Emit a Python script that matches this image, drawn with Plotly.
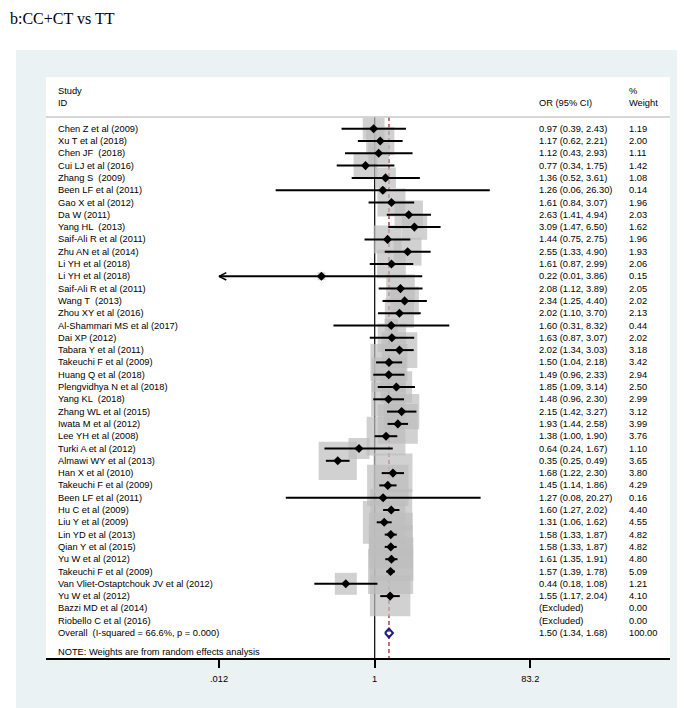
import math
import plotly.graph_objects as go

# ---------------- data ----------------
studies = [
    "Chen Z et al (2009)", "Xu T et al (2018)", "Chen JF  (2018)", "Cui LJ et al (2016)",
    "Zhang S  (2009)", "Been LF et al (2011)", "Gao X et al (2012)", "Da W (2011)",
    "Yang HL  (2013)", "Saif-Ali R et al (2011)", "Zhu AN et al (2014)", "Li YH et al (2018)",
    "Li YH et al (2018)", "Saif-Ali R et al (2011)", "Wang T  (2013)", "Zhou XY et al (2016)",
    "Al-Shammari MS et al (2017)", "Dai XP (2012)", "Tabara Y et al (2011)", "Takeuchi F et al (2009)",
    "Huang Q et al (2018)", "Plengvidhya N et al (2018)", "Yang KL  (2018)", "Zhang WL et al (2015)",
    "Iwata M et al (2012)", "Lee YH et al (2008)", "Turki A et al (2012)", "Almawi WY et al (2013)",
    "Han X et al (2010)", "Takeuchi F et al (2009)", "Been LF et al (2011)", "Hu C et al (2009)",
    "Liu Y et al (2009)", "Lin YD et al (2013)", "Qian Y et al (2015)", "Yu W et al (2012)",
    "Takeuchi F et al (2009)", "Van Vliet-Ostaptchouk JV et al (2012)", "Yu W et al (2012)",
    "Bazzi MD et al (2014)", "Riobello C et al (2016)",
]
or_vals = [0.97, 1.17, 1.12, 0.77, 1.36, 1.26, 1.61, 2.63, 3.09, 1.44, 2.55, 1.61, 0.22, 2.08,
           2.34, 2.02, 1.60, 1.63, 2.02, 1.50, 1.49, 1.85, 1.48, 2.15, 1.93, 1.38, 0.64, 0.35,
           1.68, 1.45, 1.27, 1.60, 1.31, 1.58, 1.58, 1.61, 1.57, 0.44, 1.55, None, None]
lci_vals = [0.39, 0.62, 0.43, 0.34, 0.52, 0.06, 0.84, 1.41, 1.47, 0.75, 1.33, 0.87, 0.01, 1.12,
            1.25, 1.10, 0.31, 0.87, 1.34, 1.04, 0.96, 1.09, 0.96, 1.42, 1.44, 1.00, 0.24, 0.25,
            1.22, 1.14, 0.08, 1.27, 1.06, 1.33, 1.33, 1.35, 1.39, 0.18, 1.17, None, None]
uci_vals = [2.43, 2.21, 2.93, 1.75, 3.61, 26.30, 3.07, 4.94, 6.50, 2.75, 4.90, 2.99, 3.86, 3.89,
            4.40, 3.70, 8.32, 3.07, 3.03, 2.18, 2.33, 3.14, 2.30, 3.27, 2.58, 1.90, 1.67, 0.49,
            2.30, 1.86, 20.27, 2.02, 1.62, 1.87, 1.87, 1.91, 1.78, 1.08, 2.04, None, None]
weights = [1.19, 2.00, 1.11, 1.42, 1.08, 0.14, 1.96, 2.03, 1.62, 1.96, 1.93, 2.06, 0.15, 2.05,
           2.02, 2.13, 0.44, 2.02, 3.18, 3.42, 2.94, 2.50, 2.99, 3.12, 3.99, 3.76, 1.10, 3.65,
           3.80, 4.29, 0.16, 4.40, 4.55, 4.82, 4.82, 4.80, 5.09, 1.21, 4.10, 0.00, 0.00]

overall_label = "Overall  (I-squared = 66.6%, p = 0.000)"
overall_or, overall_lci, overall_uci, overall_weight = 1.50, 1.34, 1.68, 100.00

tick_vals = [0.012, 1, 83.2]
tick_text = [".012", "1", "83.2"]
title_text = "b:CC+CT vs TT"
note_text = "NOTE: Weights are from random effects analysis"
null_value = 1

# ---------------- layout constants ----------------
W, H = 685, 708
PL, PR, PT, PB = 38, 662, 69, 650          # plot (white) region in px
ROW0, ROWSTEP = 120.7, 12.3                 # px of first row and row spacing
PX_ONE, PX_PER_DEC = 366.7, 81.05           # px of OR=1 and px per decade

def row_of(px):
    return (px - ROW0) / ROWSTEP

def paper_x(px):
    return (px - PL) / (PR - PL)

def paper_y(py):
    return (PB - py) / (PB - PT)

x_lo = (PL - PX_ONE) / PX_PER_DEC
x_hi = (PR - PX_ONE) / PX_PER_DEC
xmin_val = tick_vals[0]

FONT = "Liberation Sans, Arial, sans-serif"
FS = 9.3
n = len(studies)
overall_row = n
rows = list(range(n))
y_top = row_of(109)
y_bot = row_of(PB)

fig = go.Figure()

# null line and overall dashed line (beneath boxes)
fig.add_trace(go.Scatter(x=[null_value, null_value], y=[y_top, y_bot], mode="lines",
                         line=dict(color="black", width=1.2), hoverinfo="skip", showlegend=False))
fig.add_trace(go.Scatter(x=[overall_or, overall_or], y=[y_top, y_bot], mode="lines",
                         line=dict(color="#a8343c", width=1.4, dash="4px,3px"),
                         hoverinfo="skip", showlegend=False))

# weight boxes
bx, by, bs = [], [], []
for i in rows:
    if or_vals[i] is not None and weights[i] > 0:
        bx.append(or_vals[i]); by.append(i); bs.append(20 * math.sqrt(weights[i]))
fig.add_trace(go.Scatter(x=bx, y=by, mode="markers",
                         marker=dict(symbol="square", size=bs, color="#bdbdbd", line=dict(width=0)),
                         hoverinfo="skip", showlegend=False))

# confidence interval lines
cx, cy = [], []
arrow_rows = []
for i in rows:
    if or_vals[i] is None:
        continue
    lo = lci_vals[i]
    if lo < xmin_val:
        arrow_rows.append(i)
        lo = xmin_val
    cx += [lo, uci_vals[i], None]
    cy += [i, i, None]
fig.add_trace(go.Scatter(x=cx, y=cy, mode="lines", line=dict(color="black", width=2),
                         hoverinfo="skip", showlegend=False))

# arrow heads for truncated CIs
for i in arrow_rows:
    ax_ = [xmin_val * 10 ** 0.09, xmin_val, xmin_val * 10 ** 0.09]
    ay_ = [i - 0.3, i, i + 0.3]
    fig.add_trace(go.Scatter(x=ax_, y=ay_, mode="lines", line=dict(color="black", width=1.5),
                             hoverinfo="skip", showlegend=False))

# point estimates
px_, py_ = [], []
for i in rows:
    if or_vals[i] is not None:
        px_.append(or_vals[i]); py_.append(i)
fig.add_trace(go.Scatter(x=px_, y=py_, mode="markers",
                         marker=dict(symbol="diamond", size=7, color="black"),
                         hoverinfo="skip", showlegend=False))

# overall diamond
dh = 0.36
fig.add_trace(go.Scatter(x=[overall_lci, overall_or, overall_uci, overall_or, overall_lci],
                         y=[overall_row, overall_row - dh, overall_row, overall_row + dh, overall_row],
                         mode="lines", line=dict(color="#1c1c8a", width=2),
                         hoverinfo="skip", showlegend=False))

# ---------------- text columns ----------------
ann = []
col_study = paper_x(48)
col_or = paper_x(529)
col_w = paper_x(619)

def txt(x, y, s, yref="y", size=FS, font=FONT, xanchor="left"):
    ann.append(dict(x=x, y=y, xref="paper", yref=yref, text=s, showarrow=False,
                    xanchor=xanchor, yanchor="middle", font=dict(size=size, family=font, color="black")))

txt(col_study, row_of(83.3), "Study")
txt(col_study, row_of(95.3), "ID")
txt(col_or, row_of(95.3), "OR (95% CI)")
txt(col_w, row_of(83.3), "%")
txt(col_w, row_of(95.3), "Weight")

for i in rows:
    txt(col_study, i, studies[i])
    if or_vals[i] is None:
        txt(col_or, i, "(Excluded)")
    else:
        txt(col_or, i, f"{or_vals[i]:.2f} ({lci_vals[i]:.2f}, {uci_vals[i]:.2f})")
    txt(col_w, i, f"{weights[i]:.2f}")

txt(col_study, overall_row, overall_label)
txt(col_or, overall_row, f"{overall_or:.2f} ({overall_lci:.2f}, {overall_uci:.2f})")
txt(col_w, overall_row, f"{overall_weight:.2f}")
txt(col_study, row_of(644.3), note_text)

# title
txt(paper_x(0), paper_y(10), title_text, yref="paper", size=16,
    font="Liberation Serif, Times New Roman, serif")

shapes = [
    dict(type="rect", xref="paper", yref="paper", x0=paper_x(8), x1=paper_x(W + 5),
         y0=paper_y(H + 5), y1=paper_y(42), fillcolor="#eaf2f3", line=dict(width=0), layer="below"),
    dict(type="rect", xref="paper", yref="paper", x0=0, x1=1, y0=0, y1=1,
         fillcolor="white", line=dict(width=0), layer="below"),
    dict(type="line", xref="paper", yref="y", x0=0, x1=1, y0=row_of(109), y1=row_of(109),
         line=dict(color="#c8c8c8", width=1.6)),
]

fig.update_layout(
    width=W, height=H,
    margin=dict(l=PL, r=W - PR, t=PT, b=H - PB, pad=0),
    paper_bgcolor="white", plot_bgcolor="white",
    showlegend=False,
    annotations=ann, shapes=shapes,
    xaxis=dict(type="log", range=[x_lo, x_hi], tickvals=tick_vals, ticktext=tick_text,
               showgrid=False, zeroline=False, showline=True, linecolor="black", linewidth=1.5,
               ticks="outside", ticklen=8, tickwidth=1.5, tickcolor="black",
               tickfont=dict(size=FS, family=FONT, color="black"), ticklabelstandoff=3),
    yaxis=dict(range=[row_of(PB), row_of(PT)], visible=False, showgrid=False, zeroline=False),
)

fig.write_html("out.html")
